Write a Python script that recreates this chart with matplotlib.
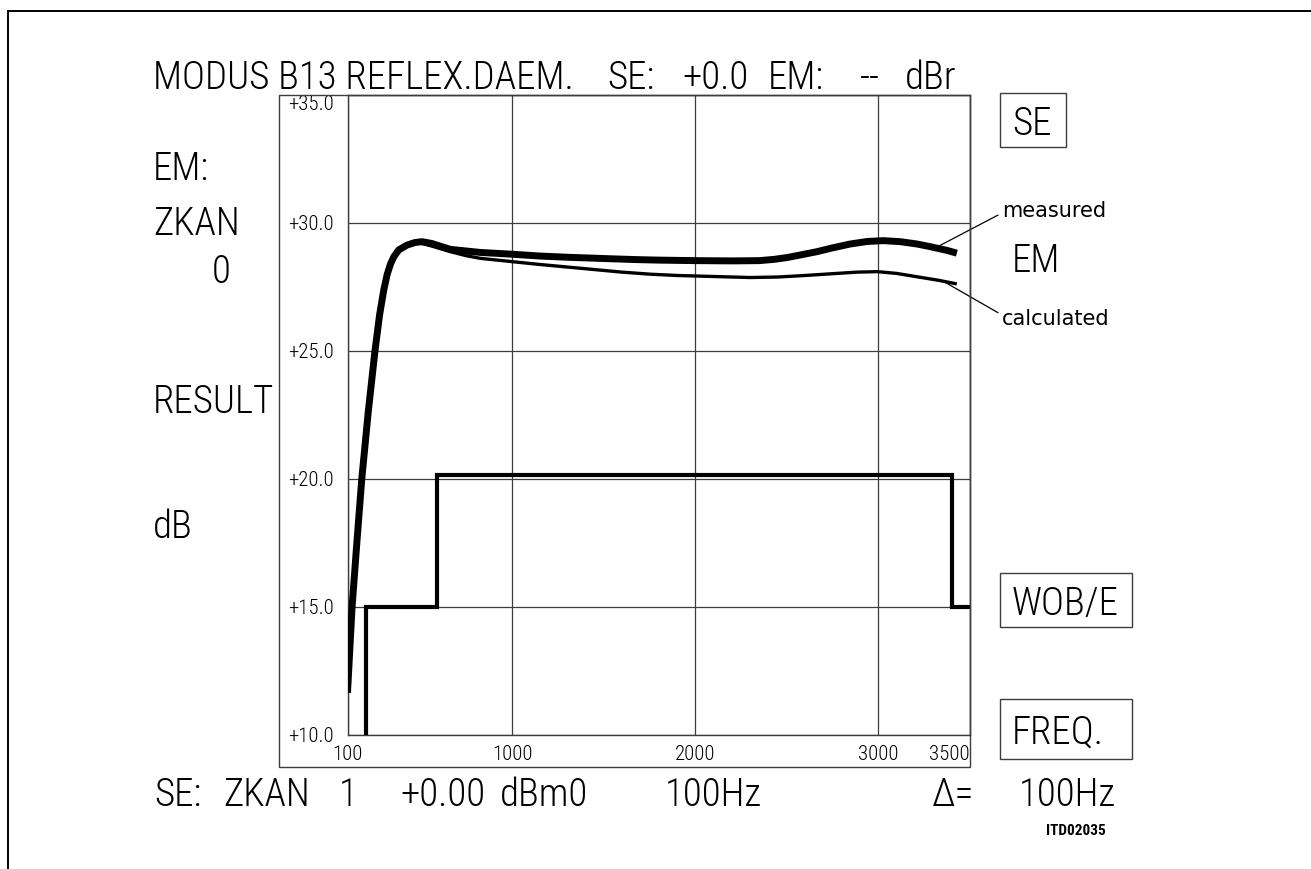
import matplotlib
matplotlib.use('Agg')
import matplotlib.pyplot as plt
from matplotlib.patches import Rectangle
from matplotlib.lines import Line2D

W, H = 1311, 869

# ---------------- data ----------------
measured_freq = [100, 125, 152, 178, 213, 250, 275, 298, 317, 335, 353, 380, 426,
                 470, 508, 560, 662, 825, 1000, 1150, 1308, 1430, 1550, 1680,
                 1800, 1900, 2000, 2200, 2350, 2430, 2500, 2580, 2664, 2750, 2846,
                 2940, 3027, 3120, 3210, 3280, 3330, 3380, 3428]
measured_db = [11.65, 15.0, 17.6, 20.0, 22.6, 25.0, 26.4, 27.38, 28.0, 28.4, 28.68,
               28.95, 29.14, 29.24, 29.27, 29.2, 28.97, 28.85, 28.78, 28.71, 28.66,
               28.63, 28.6, 28.57, 28.55, 28.54, 28.53, 28.52, 28.53, 28.58, 28.65,
               28.76, 28.88, 29.03, 29.18, 29.28, 29.31, 29.27, 29.18, 29.08, 29.0,
               28.92, 28.82]

calc_freq = [100, 125, 152, 178, 213, 250, 275, 298, 317, 335, 353, 380, 426,
             470, 508, 560, 662, 750, 825, 1000, 1150, 1300, 1450, 1600, 1754,
             1900, 2000, 2150, 2300, 2450, 2600, 2750, 2880, 2995, 3100, 3210,
             3330, 3428]
calc_db = [11.65, 15.0, 17.6, 20.0, 22.6, 25.0, 26.4, 27.38, 28.0, 28.4, 28.68,
           28.95, 29.14, 29.22, 29.2, 29.1, 28.88, 28.72, 28.62, 28.49, 28.38,
           28.28, 28.18, 28.08, 28.0, 27.95, 27.93, 27.9, 27.87, 27.89, 27.95,
           28.02, 28.08, 28.1, 28.03, 27.9, 27.76, 27.62]

limit_freq = [200, 200, 590, 590, 3400, 3400, 3500]
limit_db = [10, 15, 15, 20.15, 20.15, 15, 15]

x_ticks = [100, 1000, 2000, 3000, 3500]
x_tick_labels = ['100', '1000', '2000', '3000', '3500']
y_ticks = [10, 15, 20, 25, 30, 35]
y_tick_labels = ['+10.0', '+15.0', '+20.0', '+25.0', '+30.0', '+35.0']

title_parts = ['MODUS B13 REFLEX.DAEM.', 'SE:', '+0.0', 'EM:', '--', 'dBr']
left_labels = ['EM:', 'ZKAN', '0', 'RESULT', 'dB']
bottom_parts = ['SE:', 'ZKAN', '1', '+0.00', 'dBm0', '100Hz', '\u0394=', '100Hz']
box_labels = ['SE', 'WOB/E', 'FREQ.']

# ---------------- styling ----------------
PLOT_FONT = ['Roboto Condensed', 'Liberation Sans Narrow', 'DejaVu Sans']
BIG = 28
TICK = 15
INK = '#000000'
GRID = '#3c3c3c'


def fx(px):
    return px / W


def fy(py):
    return 1 - py / H


def big_text(x, y, s, **kw):
    opts = dict(family=PLOT_FONT, fontsize=BIG, weight='light', va='baseline',
                ha='left')
    opts.update(kw)
    return fig.text(fx(x), fy(y), s, **opts)


fig = plt.figure(figsize=(W / 100, H / 100), dpi=100)
fig.patch.set_facecolor('white')

# page border (top and left)
fig.add_artist(Line2D([fx(7.5), fx(1311)], [fy(11), fy(11)], color=INK, lw=1.4))
fig.add_artist(Line2D([fx(7.5), fx(7.5)], [fy(11), fy(869)], color=INK, lw=1.4))

ax = fig.add_axes([fx(347.5), fy(735), fx(970) - fx(347.5), fy(95) - fy(735)])
ax.set_xlim(100, 3500)
ax.set_ylim(10, 35)
ax.set_xticks(x_ticks)
ax.set_xticklabels(x_tick_labels, family=PLOT_FONT, fontsize=TICK, weight='light')
ax.set_yticks(y_ticks)
ax.set_yticklabels(y_tick_labels, family=PLOT_FONT, fontsize=TICK, weight='light')
ax.tick_params(length=0)
ax.tick_params(axis='x', pad=7)
ax.tick_params(axis='y', pad=10)
for lab in ax.get_yticklabels():
    if lab.get_text() == '+35.0':
        lab.set_va('top')
    elif lab.get_text() == '+10.0':
        lab.set_va('center_baseline')
for lab in ax.get_xticklabels():
    if lab.get_text() == '3500':
        lab.set_ha('right')
ax.grid(True, color=GRID, lw=0.9)
for sp in ax.spines.values():
    sp.set_color(GRID)
    sp.set_linewidth(1.0)

ax.plot(limit_freq, limit_db, color=INK, lw=3.0, solid_joinstyle='miter', zorder=3)
ax.plot(measured_freq, measured_db, color=INK, lw=5.0, solid_capstyle='butt',
        solid_joinstyle='round', zorder=4)
ax.plot(calc_freq, calc_db, color=INK, lw=2.4, solid_capstyle='butt',
        solid_joinstyle='round', zorder=4)

# outer frame around plot and tick labels
fig.add_artist(Rectangle((fx(279), fy(767)), fx(970) - fx(279), fy(95) - fy(767),
                         fill=False, edgecolor=GRID, lw=1.0))

# title
title_x = [153, 607, 682, 768, 860, 905]
for t, x in zip(title_parts, title_x):
    big_text(x, 89, t)

# left labels
left_pos = [(153, 180), (153, 235), (212, 283), (153, 413), (153, 538)]
for t, (x, y) in zip(left_labels, left_pos):
    big_text(x, y, t)

# bottom line
bottom_x = [154, 223, 339, 400, 500, 665, 932, 1019]
for t, x in zip(bottom_parts, bottom_x):
    big_text(x, 806, t)
fig.text(fx(1106), fy(835), 'ITD02035', family=PLOT_FONT, fontsize=11,
         weight='bold', va='baseline', ha='right')

# right boxes
boxes = [(1000, 93, 1066, 147), (1000, 573, 1132, 627), (1000, 699, 1132, 759)]
for t, (x0, y0, x1, y1) in zip(box_labels, boxes):
    fig.add_artist(Rectangle((fx(x0), fy(y1)), fx(x1) - fx(x0), fy(y0) - fy(y1),
                             fill=False, edgecolor=GRID, lw=1.0))
    big_text(1012, (y0 + y1) / 2, t, va='center_baseline')

big_text(1012, 272, 'EM')

# annotations
ax.annotate('measured', xy=(3330, 29.1), xycoords='data',
            xytext=(fx(1002), fy(217)), textcoords='figure fraction',
            fontsize=15, family='DejaVu Sans', va='baseline', ha='left',
            arrowprops=dict(arrowstyle='-', lw=0.9, color=INK,
                            relpos=(0, 0.4), shrinkA=1, shrinkB=0))
ax.annotate('calculated', xy=(3360, 27.7), xycoords='data',
            xytext=(fx(1002), fy(325)), textcoords='figure fraction',
            fontsize=15, family='DejaVu Sans', va='baseline', ha='left',
            arrowprops=dict(arrowstyle='-', lw=0.9, color=INK,
                            relpos=(0, 0.7), shrinkA=1, shrinkB=0))

fig.savefig('out.png', dpi=100, facecolor='white')
